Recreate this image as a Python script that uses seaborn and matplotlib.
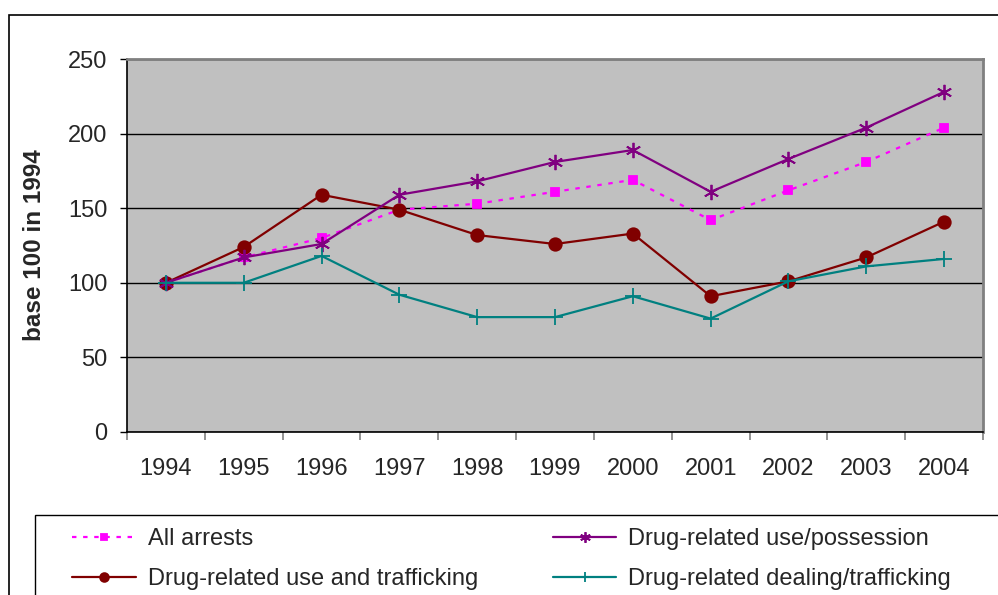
import pandas as pd
import numpy as np
import matplotlib
matplotlib.use("Agg")
import matplotlib.pyplot as plt
import seaborn as sns
from matplotlib.patches import Rectangle

years = ['1994', '1995', '1996', '1997', '1998', '1999', '2000', '2001', '2002', '2003', '2004']
all_arrests = [100, 117, 130, 149, 153, 161, 169, 142, 162, 181, 204]
use_possession = [100, 117, 126, 159, 168, 181, 189, 161, 183, 204, 228]
use_trafficking = [100, 124, 159, 149, 132, 126, 133, 91, 101, 117, 141]
dealing_trafficking = [100, 100, 118, 92, 77, 77, 91, 76, 101, 111, 116]

sns.set_style("white")
plt.rcParams['font.family'] = ['Liberation Sans', 'DejaVu Sans']

W, H = 998, 595
fig = plt.figure(figsize=(W / 100, H / 100), dpi=100)
ax = fig.add_axes([127/W, 1 - 432/H, (983 - 127)/W, (432 - 59)/H])
ax.set_facecolor('#C0C0C0')

# outer chart border and legend box (both run off the picture edge)
fig.patches.append(Rectangle((9/W, -0.1), 1.2, 1 - 15/H + 0.1, transform=fig.transFigure,
                             fill=False, edgecolor='black', linewidth=1.2))
fig.patches.append(Rectangle((35/W, -0.1), 1.2, 1 - 515/H + 0.1, transform=fig.transFigure,
                             fill=False, edgecolor='black', linewidth=1.0))

series = [
    ('All arrests', all_arrests, '#FF00FF', 's', (0, (2, 3)), 5.5),
    ('Drug-related use and trafficking', use_trafficking, '#800000', 'o', '-', 9),
    ('Drug-related use/possession', use_possession, '#800080', (6, 2, 0), '-', 11),
    ('Drug-related dealing/trafficking', dealing_trafficking, '#008080', '+', '-', 11),
]

for name, vals, col, mk, ls, ms in series:
    df = pd.DataFrame({'year': years, 'value': vals})
    sns.lineplot(data=df, x='year', y='value', ax=ax, color=col, marker=mk,
                 linestyle=ls, markersize=ms, linewidth=1.6, label=name,
                 markeredgecolor=col, markeredgewidth=1.3)

ax.set_xlim(-0.5, len(years) - 0.5)
ax.set_ylim(0, 250)
ax.set_yticks(range(0, 251, 50))
ax.yaxis.grid(True, color='black', linewidth=1)
ax.xaxis.grid(False)
ax.set_axisbelow(True)

ax.set_xticks(range(len(years)))
ax.set_xticklabels(years)
ax.set_xticks(np.arange(-0.5, len(years), 1), minor=True)
ax.tick_params(axis='x', which='major', length=0, pad=19, labelsize=17)
ax.tick_params(axis='x', which='minor', length=6, width=1.2, color='#808080', direction='out', bottom=True)
ax.tick_params(axis='y', length=5, width=1, color='black', direction='out', left=True, labelsize=17, pad=9)

for s in ['left', 'bottom']:
    ax.spines[s].set_color('black')
    ax.spines[s].set_linewidth(1.2)
for s in ['top', 'right']:
    ax.spines[s].set_color('#808080')
    ax.spines[s].set_linewidth(2)

ax.set_xlabel('')
ax.set_ylabel('base 100 in 1994', fontsize=17.5, fontweight='bold', labelpad=16)

ax.legend_.remove()
handles, labels = ax.get_legend_handles_labels()
leg = fig.legend(handles, labels, ncol=2, loc='upper left',
                 bbox_to_anchor=(72/W, 1 - 528/H), frameon=False,
                 fontsize=17, handlelength=2.7, labelspacing=0.76, borderpad=0,
                 borderaxespad=0, columnspacing=3.17, handletextpad=0.5)
for h in leg.legend_handles:
    h.set_markersize(h.get_markersize() * 0.7)

fig.savefig('out.png', dpi=100)
